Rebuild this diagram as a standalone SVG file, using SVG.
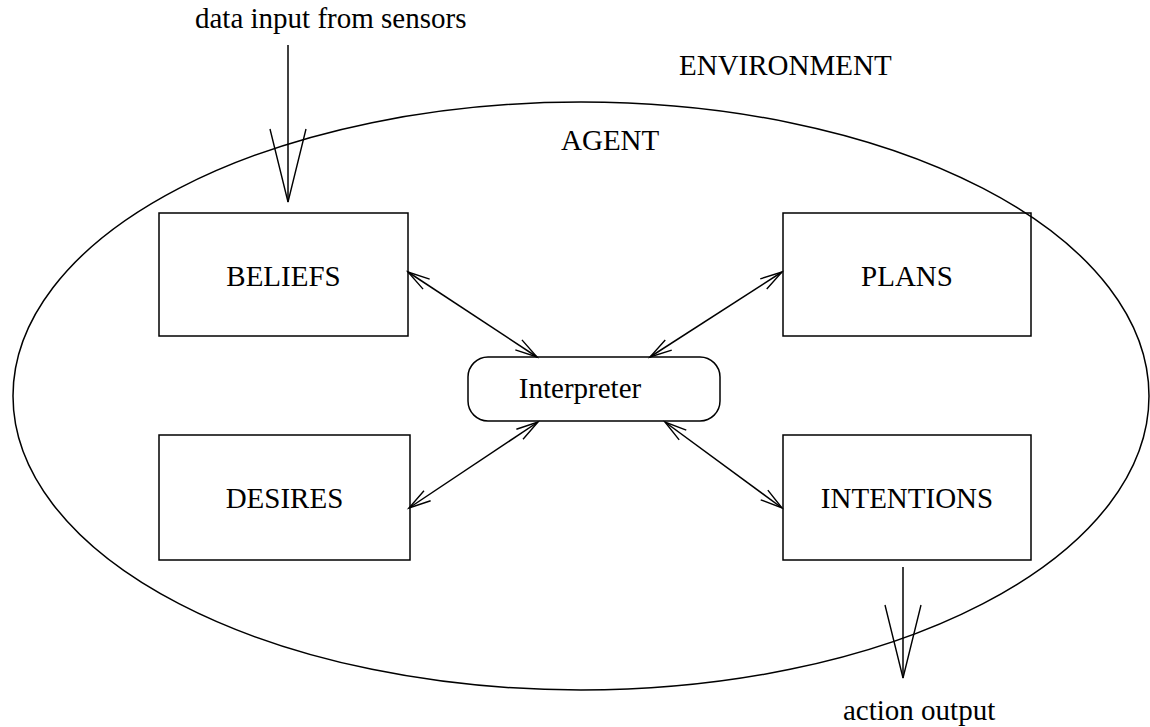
<svg xmlns="http://www.w3.org/2000/svg" width="1150" height="727" viewBox="0 0 1150 727">
<style>
text{font-family:"Liberation Serif","Times New Roman",serif;font-size:29px;fill:#000}
.box{fill:none;stroke:#000;stroke-width:1.5}
.ln{fill:none;stroke:#000;stroke-width:1.5}
.c{text-anchor:middle}
</style>
<defs>
<marker id="ah" markerUnits="userSpaceOnUse" viewBox="0 0 26 16" refX="23" refY="8" markerWidth="26" markerHeight="16" orient="auto-start-reverse">
<path d="M1,2 L23,8 L1,14" fill="none" stroke="#000" stroke-width="1.4"/>
</marker>
<marker id="big" markerUnits="userSpaceOnUse" viewBox="0 0 76 40" refX="74" refY="20" markerWidth="76" markerHeight="40" orient="auto">
<path d="M1,2 L74,20 L1,38" fill="none" stroke="#000" stroke-width="1.4"/>
</marker>
</defs>
<rect width="1150" height="727" fill="#fff"/>
<g id="environment">
<text x="679" y="75">ENVIRONMENT</text>
</g>
<g id="agent">
<ellipse cx="581" cy="396" rx="568" ry="294" class="ln"/>
<text x="561" y="150">AGENT</text>
</g>
<g id="beliefs">
<rect x="159" y="213" width="249" height="123" class="box"/>
<text x="283.5" y="286" class="c">BELIEFS</text>
</g>
<g id="plans">
<rect x="783" y="213" width="248" height="123" class="box"/>
<text x="907" y="286" class="c">PLANS</text>
</g>
<g id="desires">
<rect x="159" y="435" width="251" height="125" class="box"/>
<text x="284.5" y="508" class="c">DESIRES</text>
</g>
<g id="intentions">
<rect x="783" y="435" width="248" height="125" class="box"/>
<text x="907" y="508" class="c">INTENTIONS</text>
</g>
<g id="interpreter">
<rect x="468" y="357" width="252" height="64" rx="20" ry="20" class="box"/>
<text x="580" y="398" class="c">Interpreter</text>
</g>
<g id="sensors">
<text x="195" y="28">data input from sensors</text>
</g>
<g id="output">
<text x="843" y="720">action output</text>
</g>
<g id="connectors">
<line x1="408" y1="272" x2="537" y2="357" class="ln" marker-start="url(#ah)" marker-end="url(#ah)"/>
<line x1="782" y1="272" x2="650" y2="357" class="ln" marker-start="url(#ah)" marker-end="url(#ah)"/>
<line x1="409" y1="508" x2="538" y2="422" class="ln" marker-start="url(#ah)" marker-end="url(#ah)"/>
<line x1="665" y1="422" x2="782" y2="508" class="ln" marker-start="url(#ah)" marker-end="url(#ah)"/>
<line x1="288" y1="45" x2="288" y2="202" class="ln" marker-end="url(#big)"/>
<line x1="903" y1="567" x2="903" y2="678" class="ln" marker-end="url(#big)"/>
</g>
</svg>
